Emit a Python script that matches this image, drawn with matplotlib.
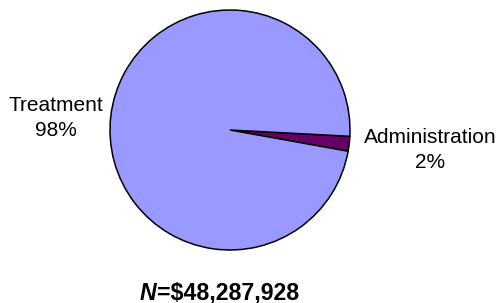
import matplotlib
matplotlib.use("Agg")
import matplotlib.pyplot as plt

plt.rcParams['font.family'] = ['Liberation Sans', 'DejaVu Sans']

categories = ["Administration", "Treatment"]
values = [2, 98]
pct_labels = ["2%", "98%"]
colors = ["#660066", "#9999FF"]
total_label = "=\\$48,287,928"

W, H = 500, 303
fig = plt.figure(figsize=(W / 100, H / 100), dpi=100)
cx, cy, r = 230, 130, 120
ax = fig.add_axes([(cx - r) / W, (H - cy - r) / H, 2 * r / W, 2 * r / H])
ax.pie(values, colors=colors, startangle=-3, counterclock=False,
       wedgeprops=dict(edgecolor="black", linewidth=1.1))
ax.set_aspect("equal")
ax.set_xlim(-1.0, 1.0)
ax.set_ylim(-1.0, 1.0)
ax.axis("off")

fig.text(56 / W, 1 - 118 / H, f"{categories[1]}\n{pct_labels[1]}", ha="center", va="center",
         fontsize=15, multialignment="center", linespacing=1.45)
fig.text(430 / W, 1 - 150 / H, f"{categories[0]}\n{pct_labels[0]}", ha="center", va="center",
         fontsize=15, multialignment="center", linespacing=1.45)

t = fig.text(140 / W, 1 - 293 / H, "N", ha="left", va="center", fontsize=16.7,
             fontweight="bold", fontstyle="italic")
ax.annotate(total_label, xy=(1, 0), xycoords=t, ha="left", va="bottom",
            fontsize=16.7, fontweight="bold", annotation_clip=False)

fig.savefig("out.png", dpi=100)
